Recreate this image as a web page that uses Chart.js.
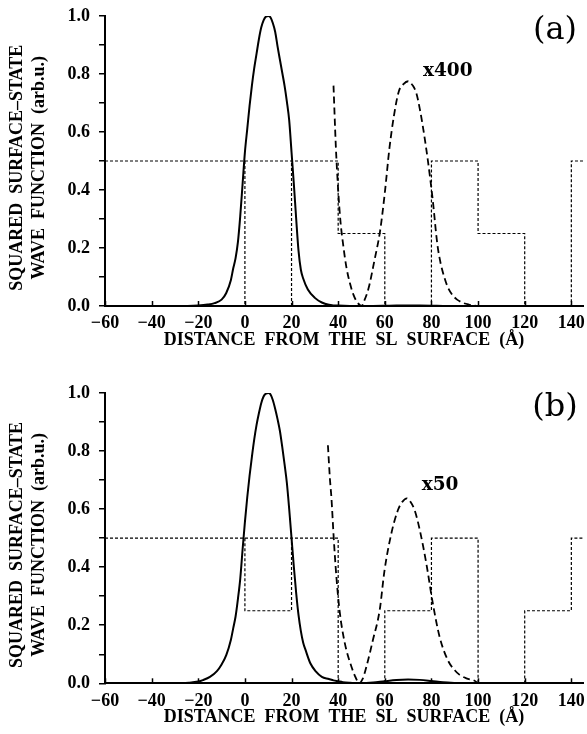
<!DOCTYPE html>
<html>
<head>
<meta charset="utf-8">
<script src="https://cdn.jsdelivr.net/npm/chart.js@4.4.0/dist/chart.umd.min.js"></script>
<style>
  html, body { margin: 0; padding: 0; background: #fff; }
  .panel { position: absolute; left: 0; width: 587px; height: 367px; }
</style>
</head>
<body>
<div class="panel" style="top:0"><canvas id="chartA"></canvas></div>
<div class="panel" style="top:367px"><canvas id="chartB"></canvas></div>
<script>
// axis ticks
const xTicks = [-60, -40, -20, 0, 20, 40, 60, 80, 100, 120, 140];
const yTicks = [0, 0.05, 0.1, 0.15, 0.2, 0.25, 0.3, 0.35, 0.4, 0.45, 0.5,
                0.55, 0.6, 0.65, 0.7, 0.75, 0.8, 0.85, 0.9, 0.95, 1.0];

// panel (a)
const solidAX = [-60,-30,-20,-16,-13,-10,-8,-6,-5,-4,-3,-2,-1,0,1,2,3,4,5,6,7,8,9,10,11,12,13,14,15,16,17,18,19,20,21,22,23,24,25,27,30,33,36,38,40,45,50,55,60,65,70,75,80,85,90,100,145];
const solidAY = [0,0,0.002,0.005,0.01,0.022,0.045,0.09,0.13,0.165,0.22,0.31,0.42,0.53,0.61,0.69,0.76,0.82,0.87,0.92,0.96,0.985,0.998,1.0,0.995,0.975,0.945,0.895,0.85,0.805,0.76,0.705,0.64,0.53,0.42,0.3,0.19,0.125,0.095,0.057,0.028,0.012,0.004,0.0019,0.0013,0.0003,0,0.0003,0.0009,0.0016,0.0019,0.0016,0.0011,0.0004,0.0001,0,0];
const dashAX = [38,39,40,41,42,43.5,45,46.5,48,49.5,50,51,53,55.5,58,60,62,64,66,68,70,72,73.5,75,76.5,78.5,80.5,82.5,84,85.5,87,89,91,93.5,96,98,100];
const dashAY = [0.76,0.55,0.4,0.29,0.22,0.135,0.08,0.04,0.015,0.002,0,0.015,0.06,0.155,0.26,0.39,0.545,0.66,0.74,0.765,0.775,0.76,0.735,0.68,0.61,0.5,0.37,0.215,0.145,0.1,0.065,0.038,0.022,0.011,0.005,0.002,0];
const stepAX = [-60,40,40,60,60,80,80,100,100,120,120,140,140,145,null,0,0,null,20,20];
const stepAY = [0.5,0.5,0.25,0.25,0,0,0.5,0.5,0.25,0.25,0,0,0.5,0.5,null,0.5,0,null,0,0.5];

// panel (b)
const solidBX = [-60,-30,-24,-20,-18,-15,-12,-10,-8,-6,-5,-4,-3,-2,-1,0,1,2,3,4,5,6,7,8,9,10,11,12,13,14,15,16,17,18,19,20,21,22,23,24,25,26,28,30.5,33,36,38,40,42,45,47,49,52,55,60,65,70,75,80,85,90,95,100,145];
const solidBY = [0,0,0.002,0.006,0.011,0.022,0.042,0.065,0.097,0.15,0.19,0.23,0.29,0.36,0.46,0.555,0.64,0.715,0.78,0.84,0.89,0.93,0.965,0.988,0.998,1.0,0.995,0.975,0.945,0.91,0.87,0.815,0.755,0.69,0.6,0.5,0.4,0.31,0.235,0.18,0.14,0.115,0.07,0.04,0.022,0.015,0.01,0.007,0.004,0.0015,0.0004,0,0.0012,0.003,0.0072,0.011,0.0127,0.0118,0.0078,0.0032,0.0012,0.0004,0,0];
const dashBX = [35.6,36.5,37.1,38.1,39.2,40.6,42.8,45.7,47.5,49,50.5,52.1,54.9,57.8,59.9,62.8,65.6,67.5,69.5,71,72.8,75,77.8,80.6,83.5,87,90,92.1,95,98.5,100];
const dashBY = [0.82,0.7,0.64,0.5,0.37,0.25,0.14,0.057,0.02,0,0.015,0.057,0.149,0.252,0.39,0.516,0.596,0.625,0.637,0.625,0.596,0.528,0.413,0.275,0.16,0.08,0.045,0.029,0.017,0.009,0];
const stepBX = [-60,40,40,60,60,80,80,100,100,120,120,140,140,145,null,0,0,20,20];
const stepBY = [0.5,0.5,0,0,0.25,0.25,0.5,0.5,0,0,0.25,0.25,0.5,0.5,null,0.5,0.25,0.25,0.5];

function pts(xs, ys) {
  return xs.map((x, i) => ({ x: x, y: ys[i] }));
}

// inward x ticks + text labels inside the plot
const extras = {
  id: 'extras',
  afterDraw(chart, args, opts) {
    const ctx = chart.ctx;
    const x = chart.scales.x, y = chart.scales.y;
    ctx.save();
    ctx.strokeStyle = '#000';
    ctx.lineWidth = 1.5;
    xTicks.forEach(v => {
      const px = Math.round(x.getPixelForValue(v)) + 0.5;
      ctx.beginPath();
      ctx.moveTo(px, y.bottom);
      ctx.lineTo(px, y.bottom - 5);
      ctx.stroke();
    });
    ctx.fillStyle = '#000';
    ctx.textAlign = 'center';
    ctx.textBaseline = 'middle';
    opts.labels.forEach(l => {
      ctx.font = l.font;
      ctx.fillText(l.text, x.getPixelForValue(l.x), y.getPixelForValue(l.y));
    });
    ctx.restore();
  }
};

const tickFont = { family: 'Liberation Serif', size: 18, weight: 'bold' };

function makePanel(id, cfg) {
  return new Chart(document.getElementById(id), {
    type: 'scatter',
    data: {
      datasets: [
        { data: pts(cfg.stepX, cfg.stepY), showLine: true, borderColor: '#000',
          borderWidth: 1.2, borderDash: [3, 2], pointRadius: 0, spanGaps: false },
        { data: pts(cfg.solidX, cfg.solidY), showLine: true, borderColor: '#000',
          borderWidth: 2, pointRadius: 0, cubicInterpolationMode: 'monotone' },
        { data: pts(cfg.dashX, cfg.dashY), showLine: true, borderColor: '#000',
          borderWidth: 1.8, borderDash: [7, 4], pointRadius: 0, cubicInterpolationMode: 'monotone' }
      ]
    },
    options: {
      responsive: true,
      maintainAspectRatio: false,
      animation: false,
      layout: { padding: { left: 6, right: 4, top: cfg.top, bottom: 0 } },
      plugins: {
        legend: { display: false },
        tooltip: { enabled: false },
        extras: { labels: cfg.labels }
      },
      scales: {
        x: {
          type: 'linear', min: -60, max: 145,
          afterBuildTicks: s => { s.ticks = xTicks.map(v => ({ value: v })); },
          afterFit: s => { s.height = cfg.xHeight; s.paddingLeft = 0; s.paddingRight = 0; },
          grid: { display: false, drawTicks: false },
          border: { display: true, color: '#000', width: 2 },
          ticks: {
            color: '#000', font: tickFont, padding: 7, maxRotation: 0,
            callback: v => (v < 0 ? '\u2212' + Math.abs(v) : String(v))
          },
          title: {
            display: true, color: '#000',
            text: 'DISTANCE  FROM  THE  SL  SURFACE  (\u00c5)',
            font: { family: 'Liberation Serif', size: 18, weight: 'bold', lineHeight: 1.2 },
            padding: { top: 0, bottom: cfg.xTitlePad }
          }
        },
        y: {
          type: 'linear', min: 0, max: 1,
          afterBuildTicks: s => { s.ticks = yTicks.map(v => ({ value: v })); },
          afterFit: s => { s.width = 99; s.paddingTop = 0; s.paddingBottom = 0; },
          grid: { display: true, drawOnChartArea: false, drawTicks: true, tickLength: 6,
                  color: '#000', lineWidth: 1.5 },
          border: { display: true, color: '#000', width: 2 },
          ticks: {
            color: '#000', font: tickFont, padding: 9,
            callback: v => (Math.abs(v * 5 - Math.round(v * 5)) < 1e-6 ? v.toFixed(1) : '')
          },
          title: {
            display: true, color: '#000',
            // trailing spaces nudge the rotated lines a little lower, as in the original
            text: ['SQUARED  SURFACE\u2013STATE   ', 'WAVE  FUNCTION  (arb.u.)   '],
            font: { family: 'Liberation Serif', size: 18, weight: 'bold', lineHeight: 1.25 },
            padding: { top: 0, bottom: 0 }
          }
        }
      }
    },
    plugins: [extras]
  });
}

makePanel('chartA', {
  solidX: solidAX, solidY: solidAY, dashX: dashAX, dashY: dashAY, stepX: stepAX, stepY: stepAY,
  top: 16, xHeight: 61, xTitlePad: 16.2,
  labels: [
    { text: '(a)', x: 133, y: 0.95, font: '32px "DejaVu Serif"' },
    { text: 'x400', x: 87, y: 0.81, font: 'bold 18.5px "DejaVu Serif"' }
  ]
});

makePanel('chartB', {
  solidX: solidBX, solidY: solidBY, dashX: dashBX, dashY: dashBY, stepX: stepBX, stepY: stepBY,
  top: 26, xHeight: 50.7, xTitlePad: 6,
  labels: [
    { text: '(b)', x: 133, y: 0.95, font: '32px "DejaVu Serif"' },
    { text: 'x50', x: 83.7, y: 0.683, font: 'bold 18.5px "DejaVu Serif"' }
  ]
});
</script>
</body>
</html>
